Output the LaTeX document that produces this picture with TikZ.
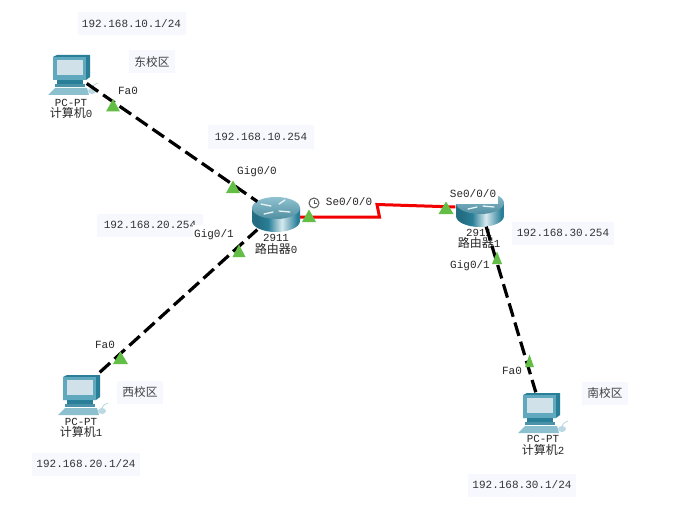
\documentclass[tikz,border=0pt]{standalone}
\usepackage{fontspec}
\setmainfont{Liberation Mono}
\newfontfamily\cjk{Noto Sans CJK SC}
\definecolor{tealD}{HTML}{2A7F98}
\definecolor{tealF}{HTML}{5FA8BD}
\definecolor{screenC}{HTML}{D0E1EA}
\definecolor{baseC}{HTML}{8CC0CE}
\definecolor{noteBg}{HTML}{F7F8FE}
\definecolor{triG}{HTML}{63BE45}
\pgfdeclarehorizontalshading{routerbody}{100bp}{
  color(0bp)=(tealD); color(30bp)=(tealD!85!black); color(42bp)=(tealD); color(56bp)=(white!75!tealF);
  color(72bp)=(tealD); color(100bp)=(tealD)}
\tikzset{
  notebox/.style={fill=noteBg,inner sep=0pt,minimum height=23pt,font=\fontsize{11}{12}\selectfont,text=black!80},
  cjknote/.style={fill=noteBg,inner sep=0pt,minimum height=23pt,font=\cjk\fontsize{11.7}{12}\selectfont,text=black!75},
  devlabel/.style={align=center,inner sep=0pt,font=\fontsize{10.8}{11.5}\selectfont,text=black!85},
  portlabel/.style={inner sep=1pt,font=\fontsize{11}{12}\selectfont,text=black!85},
  lanlink/.style={line width=3.2pt,dash pattern=on 14pt off 6pt,black},
  wanlink/.style={line width=3pt,red!95!black},
  porttri/.style={fill=triG,draw=none},
  pcpic/.pic={
    \fill[tealD] (-18,-17) -- (-14,-19) -- (19,-19) -- (19,3) -- (15,6) -- (-18,6) -- cycle;
    \fill[tealF] (-18,-17) -- (15,-17) -- (15,6) -- (-18,6) -- cycle;
    \fill[screenC] (-14,-14) rectangle (12,1);
    \fill[tealD] (-14,6) rectangle (12,10);
    \fill[tealD!85!white] (-16,10) rectangle (14,13);
    \fill[baseC] (-16,14) -- (16,14) -- (18,21) -- (-23,21) -- cycle;
    \fill[baseC!60] (21,17) ellipse (4 and 3);
    \draw[baseC!70,line width=.7pt] (21,14) .. controls (23,10) and (25,10) .. (27,9);
  },
  routerpic/.pic={
    \path[shading=routerbody] (-24,-6) -- (-24,7) arc[start angle=180,end angle=0,x radius=24,y radius=11] -- (24,-6) -- cycle;
    \shade[top color=tealF!70!white,bottom color=tealF!85!black] (0,-6) ellipse (24 and 11);
    \draw[white!85!tealF,line width=1.3pt,line cap=round] (-15,-10) -- (-5,-8) (3,-3) -- (14,-2) (-3,-2) -- (-12,0) (3,-10) -- (9,-14);
  }
}
\begin{document}
\begin{tikzpicture}[x=1pt,y=-1pt]
\useasboundingbox (0,0) rectangle (693,532);
\fill[white] (0,0) rectangle (693,532);

% anchors for the devices
\node[inner sep=0pt,minimum size=1pt] (pc0) at (86,83) {};
\node[inner sep=0pt,minimum size=1pt] (pc1) at (99,373) {};
\node[inner sep=0pt,minimum size=1pt] (pc2) at (536,393) {};
\node[inner sep=0pt,minimum size=1pt] (r0a) at (258,202) {};
\node[inner sep=0pt,minimum size=1pt] (r0b) at (258,229) {};
\node[inner sep=0pt,minimum size=1pt] (r0c) at (298,217) {};
\node[inner sep=0pt,minimum size=1pt] (r1a) at (456,207) {};
\node[inner sep=0pt,minimum size=1pt] (r1b) at (486,226) {};
\coordinate (k1) at (379.5,217);
\coordinate (k2) at (377,204.5);

% links behind the devices
\draw[wanlink] (r0c) -- (k1) -- (k2) -- (r1a);

% devices
\pic at (71,74) {pcpic};
\pic at (81,394) {pcpic};
\pic at (541,412) {pcpic};
\pic at (276,214) {routerpic};
\pic at (480,209) {routerpic};

\draw[lanlink] (pc0) -- (r0a);
\draw[lanlink] (pc1) -- (r0b);

% device labels
\node[devlabel] (l0) at (71,109) {PC-PT\\{\cjk\fontsize{12}{12}\selectfont 计算机}0};
\node[devlabel] (l1) at (81,428) {PC-PT\\{\cjk\fontsize{12}{12}\selectfont 计算机}1};
\node[devlabel] (l2) at (543,445.5) {PC-PT\\{\cjk\fontsize{12}{12}\selectfont 计算机}2};
\node[devlabel] (l3) at (276,244.5) {2911\\{\cjk\fontsize{12}{12}\selectfont 路由器}0};
\node[devlabel] (l4) at (479,239) {2911\\{\cjk\fontsize{12}{12}\selectfont 路由器}1};
\draw[lanlink] (r1b) -- (pc2);

% note under the Gig0/1 label
\node[notebox,minimum width=106pt] (n4) at (150,225) {192.168.20.254};

% labels with a white ground, under the port triangles
\node[portlabel,fill=white,minimum height=20pt,minimum width=42pt] (p3) at (214,235) {Gig0/1};
\node[portlabel,fill=white,minimum height=20pt,minimum width=49pt] (p6) at (473,194) {Se0/0/0};

% port triangles
\foreach \x/\y/\w in {113/105.5/7,233/187/7,239/251/6.5,120.5/358/7.5,309/216/7,446/208/7.5,497/258/5,529.5/361/4.5}{
  \fill[porttri] (\x,\y-6.5) -- (\x+\w,\y+6) -- (\x-\w,\y+6) -- cycle;
}

% clock
\node[circle,draw=black!65,line width=1pt,minimum size=10pt,inner sep=0pt] (clk) at (314,203) {};
\draw[black!65,line width=.8pt] (clk.center) -- ++(0,-3.5) (clk.center) -- ++(3,0);

% notes
\node[notebox,minimum width=108pt] (n1) at (131.5,24) {192.168.10.1/24};
\node[cjknote,minimum width=46pt] (n2) at (152,62) {东校区};
\node[notebox,minimum width=106pt] (n3) at (261,137) {192.168.10.254};
\node[cjknote,minimum width=46pt] (n5) at (140,392) {西校区};
\node[notebox,minimum width=108pt] (n6) at (86,464) {192.168.20.1/24};
\node[notebox,minimum width=102pt] (n7) at (563,233) {192.168.30.254};
\node[cjknote,minimum width=46pt] (n8) at (605,393) {南校区};
\node[notebox,minimum width=108pt] (n9) at (522,485) {192.168.30.1/24};

% port labels
\node[portlabel] (p1) at (128,91) {Fa0};
\node[portlabel] (p2) at (257,172) {Gig0/0};
\node[portlabel] (p4) at (105,345) {Fa0};
\node[portlabel] (p5) at (349,202) {Se0/0/0};
\node[portlabel] (p7) at (470,266) {Gig0/1};
\node[portlabel] (p8) at (512,371) {Fa0};
\end{tikzpicture}
\end{document}
